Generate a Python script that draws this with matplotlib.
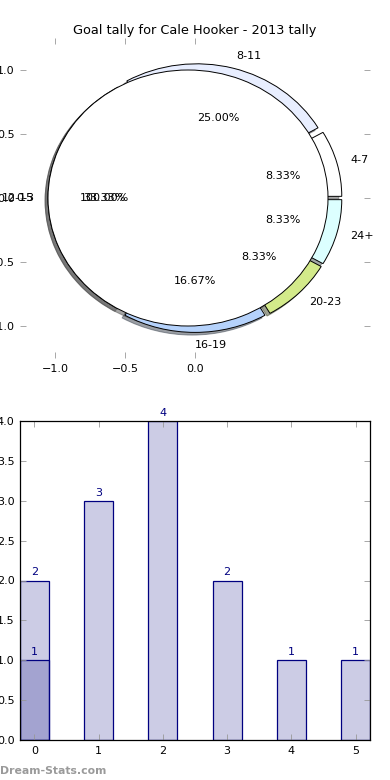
import matplotlib
matplotlib.use("Agg")
import matplotlib.pyplot as plt

# ---- data ----
title = "Goal tally for Cale Hooker - 2013 tally"
pie_labels = ['4-7', '8-11', '0-3', '16-19', '20-23', '24+']
pie_values = [1, 3, 4, 2, 1, 1]
pie_colors = ['#ffffff', '#e8eeff', '#ffffff', '#b5d2fb', '#d3ea8a', '#dcffff']
pie2_labels = ['12-15']
pie2_values = [1]
pie2_colors = ['#ffffff']
pie_xticks = [-1.0, -0.5, 0.0]
pie_yticks = [-1.0, -0.5, 0.0, 0.5, 1.0]

bar_x = [0, 1, 2, 3, 4, 5]
bar_values = [2, 3, 4, 2, 1, 1]
bar2_x = [0]
bar2_values = [1]
bar_yticks = [0.0, 0.5, 1.0, 1.5, 2.0, 2.5, 3.0, 3.5, 4.0]

plt.rcParams['font.family'] = ['DejaVu Sans']
fig = plt.figure(figsize=(3.9, 7.8), dpi=100)

W, H = 390.0, 780.0
ax1 = fig.add_axes([20 / W, 1 - 358 / H, 350 / W, 320 / H])
ax2 = fig.add_axes([20 / W, 1 - 740 / H, 350 / W, 319 / H])

wp = {'edgecolor': 'black', 'linewidth': 0.7}
tp = {'fontsize': 8}
shad = {'ox': -0.015, 'oy': -0.015, 'shade': 0.7}
ax1.pie(pie_values, labels=pie_labels, colors=pie_colors,
        explode=[0.05] * len(pie_values), shadow=shad, startangle=0,
        autopct='%.2f%%', wedgeprops=wp, textprops=tp)
ax1.pie(pie2_values, labels=pie2_labels, colors=pie2_colors,
        explode=[0.05] * len(pie2_values), shadow=shad, startangle=0,
        autopct='%.2f%%', wedgeprops=wp, textprops=tp)
ax1.set_aspect('auto')
ax1.set_xlim(-1.25, 1.25)
ax1.set_ylim(-1.25, 1.25)
ax1.set_xticks(pie_xticks)
ax1.set_yticks(pie_yticks)
ax1.set_frame_on(False)
ax1.tick_params(direction='in', length=4, width=0.6, color='#999999',
                top=True, right=True, labelsize=8, pad=4)
ax1.set_title(title, fontsize=9.3, pad=3)

ax2.bar(bar_x, bar_values, width=0.45, color=(0, 0, 0.5, 0.2),
        edgecolor='navy', linewidth=0.9)
ax2.bar(bar2_x, bar2_values, width=0.45, color=(0, 0, 0.5, 0.2),
        edgecolor='navy', linewidth=0.9)
for xv, yv in zip(bar_x, bar_values):
    ax2.text(xv, yv + 0.04, str(yv), ha='center', va='bottom', color='navy', fontsize=8)
for xv, yv in zip(bar2_x, bar2_values):
    ax2.text(xv, yv + 0.04, str(yv), ha='center', va='bottom', color='navy', fontsize=8)
ax2.set_xlim(-0.225, 5.225)
ax2.set_ylim(0, 4)
ax2.set_xticks(bar_x)
ax2.set_yticks(bar_yticks)
ax2.set_yticklabels(['%.1f' % v for v in bar_yticks])
ax2.tick_params(direction='in', length=4, width=0.6, color='#999999',
                top=True, right=True, labelsize=8, pad=4)
for s in ax2.spines.values():
    s.set_linewidth(0.9)

fig.text(0.0, 0.012, 'Dream-Stats.com', fontsize=7.8, color='#9a9a9a',
         fontweight='bold', ha='left', va='center')

fig.savefig('out.png', dpi=100)
